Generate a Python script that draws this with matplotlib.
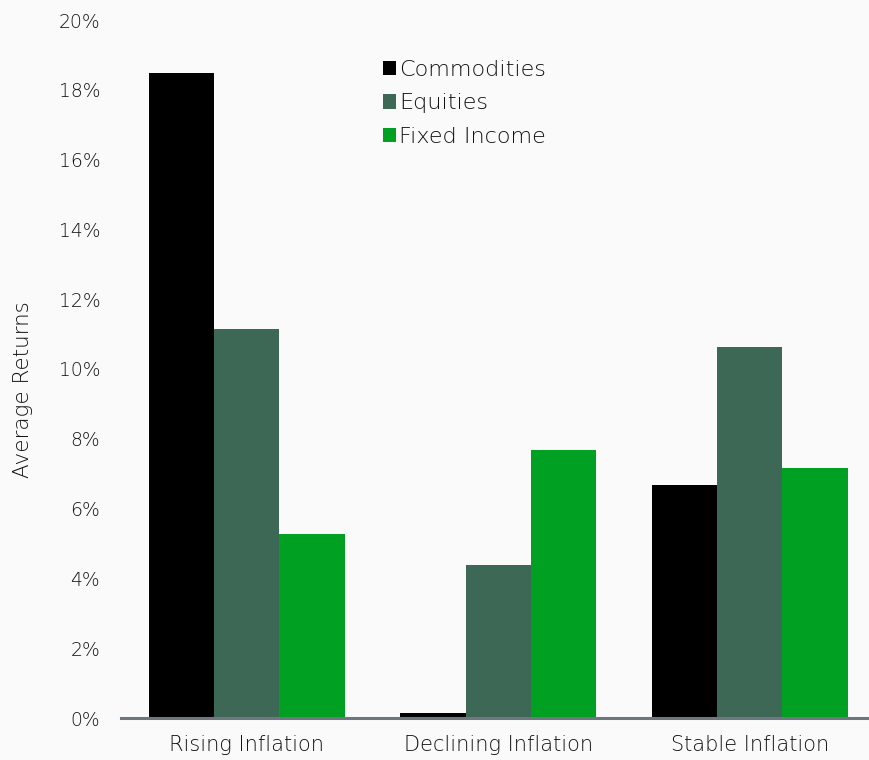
import numpy as np
import matplotlib.pyplot as plt
from matplotlib.patches import Patch

categories = ["Rising Inflation", "Declining Inflation", "Stable Inflation"]
series = ["Commodities", "Equities", "Fixed Income"]
commodities = [18.48, 0.13, 6.68]
equities = [11.15, 4.38, 10.63]
fixed_income = [5.27, 7.68, 7.16]
colors = ["#000000", "#3d6856", "#00a022"]

plt.rcParams['font.family'] = ['DejaVu Sans']
plt.rcParams['font.weight'] = 'light'
plt.rcParams['axes.labelweight'] = 'light'

fig = plt.figure(figsize=(8.69, 7.6), dpi=100, facecolor="#fafafa")
ax = fig.add_axes([121 / 869, 42 / 760, 748 / 869, 698 / 760])
ax.set_facecolor("#fafafa")

x = np.arange(len(categories))
w = 0.26
for i, (vals, name) in enumerate(zip([commodities, equities, fixed_income], series)):
    ax.bar(x + (i - 1) * w, vals, width=w, color=colors[i], label=name, zorder=2)

ax.set_xlim(-0.5, 2.474)
ax.set_ylim(0, 20)
ax.set_yticks(np.arange(0, 21, 2))
ax.set_yticklabels([f"{v}%" for v in range(0, 21, 2)])
ax.set_xticks(x)
ax.set_xticklabels(categories)
ax.tick_params(axis='x', length=0, labelsize=15, colors="#111111", pad=12)
ax.tick_params(axis='y', length=0, labelsize=13.5, colors="#111111", pad=15)

for s in ["top", "right", "left"]:
    ax.spines[s].set_visible(False)
ax.spines["bottom"].set_color("#6e7780")
ax.spines["bottom"].set_linewidth(2.2)
ax.spines["bottom"].set_zorder(3)

ax.set_ylabel("Average Returns", fontsize=15.5, color="#111111")
ax.yaxis.set_label_coords(-0.118, 0.471)

handles = [Patch(facecolor=c, label=n) for c, n in zip(colors, series)]
ax.legend(handles=handles, loc="upper left", bbox_to_anchor=(0.323, 0.972),
          frameon=False, fontsize=16, handlelength=0.6, handleheight=0.6,
          handletextpad=0.15, labelspacing=0.62, labelcolor="#111111")

fig.savefig("out.png", dpi=100, facecolor=fig.get_facecolor())
